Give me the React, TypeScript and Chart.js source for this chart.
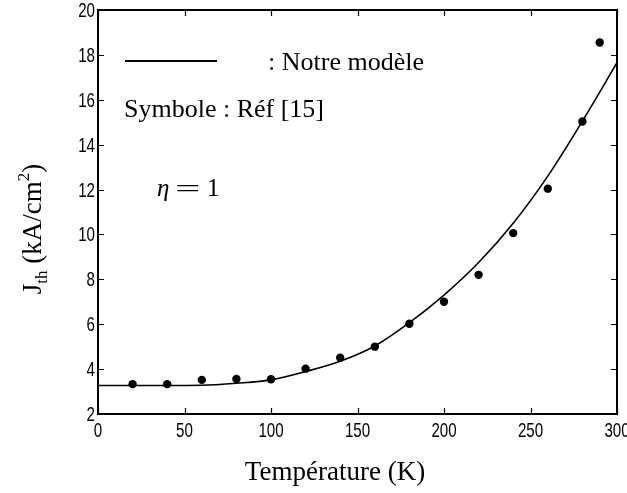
import React, { useEffect, useRef } from "react";
import { Chart, registerables } from "chart.js";

Chart.register(...registerables);

// Reference data (Réf [15])
const refTemps = [20, 40, 60, 80, 100, 120, 140, 160, 180, 200, 220, 240, 260, 280, 290];
const refJth = [3.33, 3.33, 3.52, 3.56, 3.55, 4.02, 4.51, 5.0, 6.02, 7.0, 8.2, 10.06, 12.04, 15.03, 18.55];

// Model curve (Notre modèle)
const modelTemps = [0, 20, 40, 60, 80, 100, 120, 140, 160, 180, 200, 220, 240, 260, 280, 300];
const modelJth = [3.27, 3.27, 3.27, 3.28, 3.37, 3.52, 3.89, 4.35, 5.03, 6.07, 7.3, 8.75, 10.5, 12.6, 15.05, 17.65];

const xTicks = [0, 50, 100, 150, 200, 250, 300];
const yTicks = [2, 4, 6, 8, 10, 12, 14, 16, 18, 20];

const SERIF = '"Liberation Serif", "Times New Roman", serif';
const SANS = '"Liberation Sans", Arial, sans-serif';

const decorPlugin = {
  id: "decor",
  afterDraw(chart: any) {
    const { ctx, chartArea, scales } = chart;
    const { left, right, top, bottom } = chartArea;
    const xs = scales.x;
    const ys = scales.y;
    ctx.save();
    // Box
    ctx.strokeStyle = "#000";
    ctx.lineWidth = 2;
    ctx.strokeRect(left, top, right - left, bottom - top);
    // Inward ticks
    ctx.lineWidth = 1.2;
    const tl = 6;
    ctx.beginPath();
    xTicks.forEach((v) => {
      const px = Math.round(xs.getPixelForValue(v)) + 0.5;
      ctx.moveTo(px, bottom);
      ctx.lineTo(px, bottom - tl);
      ctx.moveTo(px, top);
      ctx.lineTo(px, top + tl);
    });
    yTicks.forEach((v) => {
      const py = Math.round(ys.getPixelForValue(v)) + 0.5;
      ctx.moveTo(left, py);
      ctx.lineTo(left + tl, py);
      ctx.moveTo(right, py);
      ctx.lineTo(right - tl, py);
    });
    ctx.stroke();

    // Tick labels (narrow sans)
    ctx.fillStyle = "#000";
    ctx.font = `21px ${SANS}`;
    const sx = 0.72;
    ctx.textBaseline = "alphabetic";
    yTicks.forEach((v) => {
      const py = ys.getPixelForValue(v);
      const s = String(v);
      const w = ctx.measureText(s).width * sx;
      ctx.save();
      ctx.translate(left - 3 - w, py + 7);
      ctx.scale(sx, 1);
      ctx.textAlign = "left";
      ctx.fillText(s, 0, 0);
      ctx.restore();
    });
    xTicks.forEach((v) => {
      const px = xs.getPixelForValue(v);
      const s = String(v);
      ctx.save();
      ctx.translate(px, bottom + 23);
      ctx.scale(sx, 1);
      ctx.textAlign = "center";
      ctx.fillText(s, 0, 0);
      ctx.restore();
    });

    // Legend line sample
    ctx.lineWidth = 2;
    ctx.beginPath();
    ctx.moveTo(125, 61);
    ctx.lineTo(217, 61);
    ctx.stroke();

    ctx.textBaseline = "alphabetic";
    ctx.textAlign = "left";
    ctx.font = `26px ${SERIF}`;
    ctx.fillText(": Notre modèle", 268, 70);
    ctx.fillText("Symbole : Réf [15]", 124, 117);

    // eta = 1
    ctx.font = `italic 25px ${SERIF}`;
    ctx.fillText("η", 157, 196);
    ctx.font = `25px ${SERIF}`;
    ctx.save();
    ctx.translate(175, 196);
    ctx.scale(1.8, 0.9);
    ctx.fillText("=", 0, 0);
    ctx.restore();
    ctx.fillText("1", 207, 196);

    // X title
    ctx.font = `27px ${SERIF}`;
    ctx.textAlign = "center";
    ctx.fillText("Température (K)", 335, 480);

    // Y title with sub/superscripts
    ctx.save();
    ctx.translate(41, 229);
    ctx.rotate(-Math.PI / 2);
    ctx.textAlign = "left";
    const big = `27px ${SERIF}`;
    const small = `17px ${SERIF}`;
    const parts = [
      { t: "J", f: big, dy: 0 },
      { t: "th", f: small, dy: 6 },
      { t: " (kA/cm", f: big, dy: 0 },
      { t: "2", f: small, dy: -12 },
      { t: ")", f: big, dy: 0 },
    ];
    let total = 0;
    parts.forEach((p) => {
      ctx.font = p.f;
      total += ctx.measureText(p.t).width;
    });
    let cx = -total / 2;
    parts.forEach((p) => {
      ctx.font = p.f;
      ctx.fillText(p.t, cx, p.dy);
      cx += ctx.measureText(p.t).width;
    });
    ctx.restore();

    ctx.restore();
  },
};

export default function App() {
  const canvasRef = useRef<HTMLCanvasElement | null>(null);

  useEffect(() => {
    if (!canvasRef.current) return;
    const chart = new Chart(canvasRef.current, {
      type: "scatter",
      data: {
        datasets: [
          {
            label: "Notre modèle",
            data: modelTemps.map((t, i) => ({ x: t, y: modelJth[i] })),
            showLine: true,
            borderColor: "#000",
            borderWidth: 1.6,
            pointRadius: 0,
            cubicInterpolationMode: "monotone",
            fill: false,
          },
          {
            label: "Réf [15]",
            data: refTemps.map((t, i) => ({ x: t, y: refJth[i] })),
            showLine: false,
            pointRadius: 4.2,
            pointBackgroundColor: "#000",
            pointBorderColor: "#000",
            pointBorderWidth: 0,
          },
        ],
      },
      options: {
        responsive: false,
        animation: false,
        layout: { padding: { top: 10, right: 10, left: 0, bottom: 0 } },
        plugins: {
          legend: { display: false },
          tooltip: { enabled: false },
          title: { display: false },
        },
        scales: {
          x: {
            type: "linear",
            min: 0,
            max: 300,
            afterFit: (s: any) => {
              s.height = 79;
              s.paddingLeft = 0;
              s.paddingRight = 0;
            },
            ticks: { display: false, stepSize: 50 },
            grid: { display: false, drawTicks: false },
            border: { display: false },
          },
          y: {
            type: "linear",
            min: 2,
            max: 20,
            afterFit: (s: any) => {
              s.width = 98;
              s.paddingTop = 0;
              s.paddingBottom = 0;
            },
            ticks: { display: false, stepSize: 2 },
            grid: { display: false, drawTicks: false },
            border: { display: false },
          },
        },
      },
      plugins: [decorPlugin],
    } as any);
    return () => chart.destroy();
  }, []);

  return (
    <div style={{ position: "fixed", left: 0, top: 0, width: 627, height: 493, background: "#fff" }}>
      <canvas ref={canvasRef} width={627} height={493} style={{ display: "block" }} />
    </div>
  );
}
